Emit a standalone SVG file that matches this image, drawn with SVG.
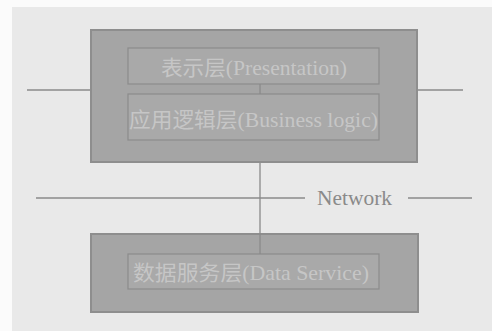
<svg xmlns="http://www.w3.org/2000/svg" width="492" height="331" viewBox="0 0 492 331">
  <style>
    .outer { fill: #a5a5a5; stroke: #8e8e8e; stroke-width: 2; }
    .inner { fill: #a9a9a9; stroke: #8c8c8c; stroke-width: 1.2; }
    .lbl { font-family: "Liberation Serif", "Noto Sans CJK SC", serif; font-size: 21px; fill: #c6c6c6; text-anchor: start; }
    .line { stroke: #8a8a8a; stroke-width: 1.3; fill: none; }
    .net { font-family: "Liberation Serif", serif; font-size: 20px; fill: #8a8a8a; }
  </style>
  <rect x="0" y="0" width="492" height="331" fill="#fbfbfb"/>
  <rect x="12" y="7" width="480" height="324" fill="#e9e9e9"/>

  <g id="connectors">
    <line class="line" x1="27" y1="90" x2="463" y2="90"/>
    <line class="line" x1="36" y1="198" x2="305" y2="198"/>
    <line class="line" x1="408" y1="198" x2="472" y2="198"/>
  </g>

  <g id="client-tier">
    <rect class="outer" x="91" y="30" width="326" height="132"/>
  </g>

  <g id="presentation">
    <rect class="inner" x="128" y="48" width="251" height="36"/>
    <text class="lbl" x="161" y="75" textLength="186" lengthAdjust="spacingAndGlyphs">表示层(Presentation)</text>
  </g>

  <g id="business-logic">
    <rect class="inner" x="128" y="94" width="251" height="46"/>
    <text class="lbl" x="129" y="127" textLength="249" lengthAdjust="spacingAndGlyphs">应用逻辑层(Business logic)</text>
  </g>

  <g id="data-tier">
    <rect class="outer" x="91" y="234" width="327" height="78"/>
  </g>

  <g id="data-service">
    <rect class="inner" x="128" y="254" width="251" height="35"/>
    <text class="lbl" x="133" y="280" textLength="236" lengthAdjust="spacingAndGlyphs">数据服务层(Data Service)</text>
  </g>

  <g id="links">
    <line class="line" x1="260" y1="84" x2="260" y2="94"/>
    <line class="line" x1="260" y1="163" x2="260" y2="254"/>
  </g>

  <g id="network-label">
    <text class="net" x="317" y="205" textLength="75" lengthAdjust="spacingAndGlyphs">Network</text>
  </g>
</svg>
